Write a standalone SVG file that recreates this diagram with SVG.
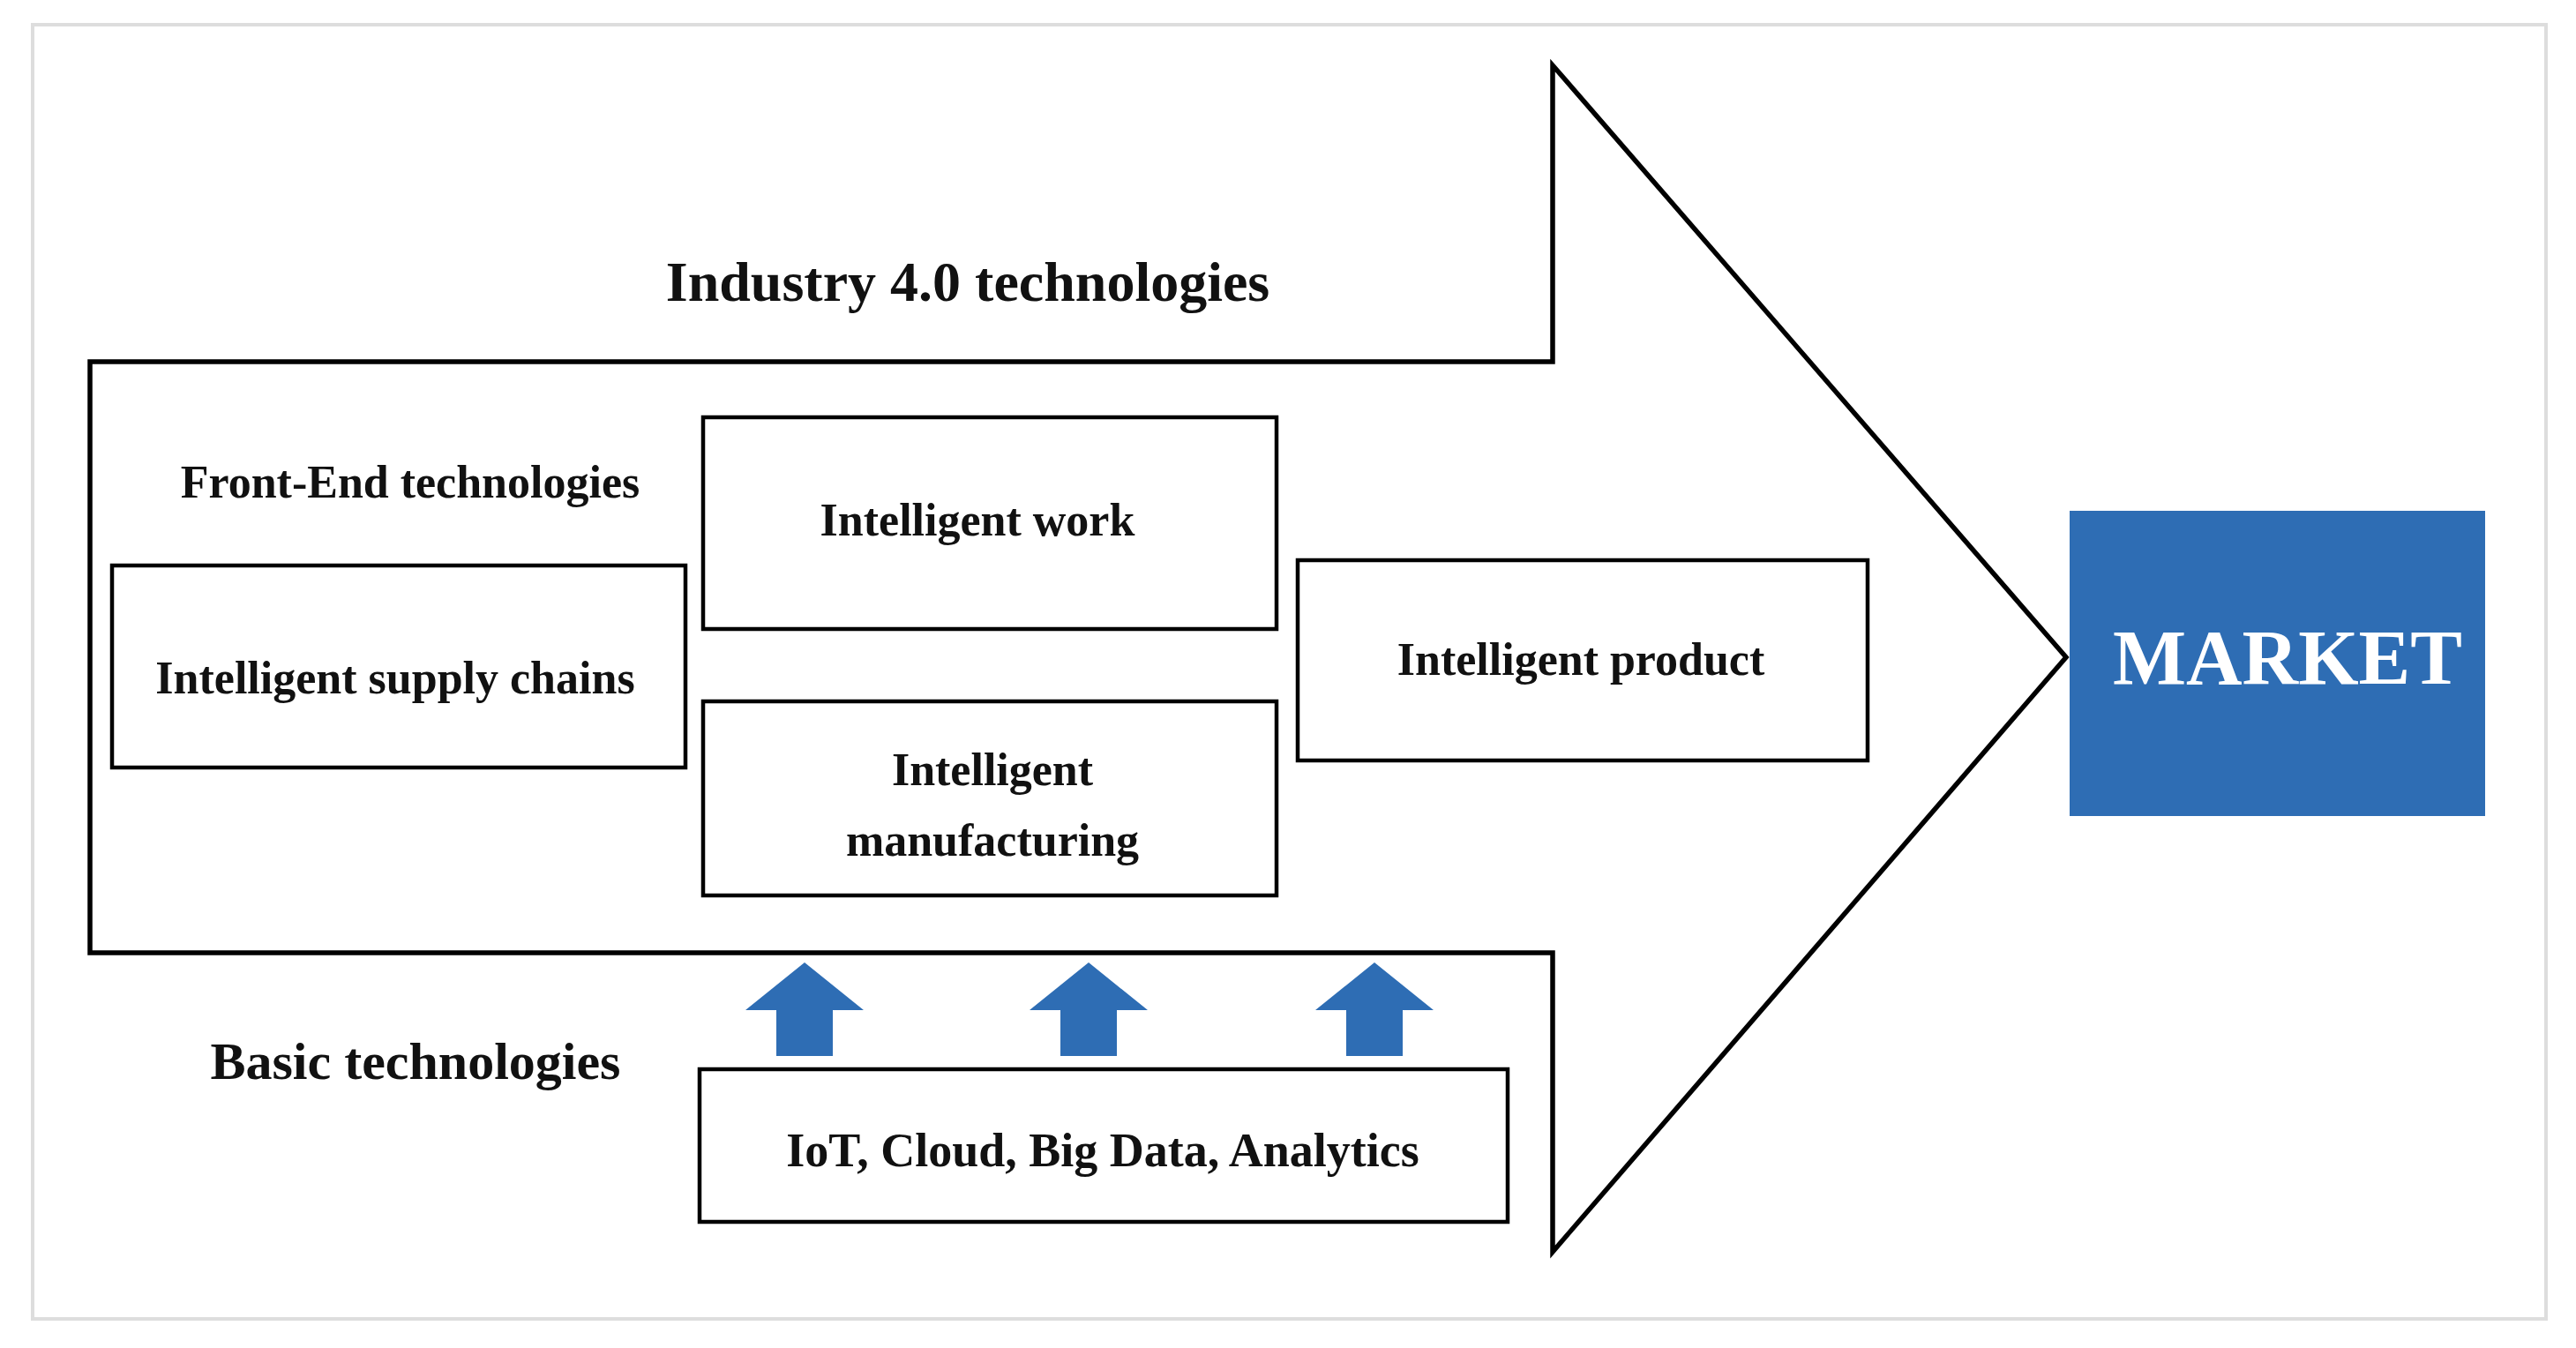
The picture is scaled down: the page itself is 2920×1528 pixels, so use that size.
<svg xmlns="http://www.w3.org/2000/svg" width="2920" height="1528" viewBox="0 0 2920 1528">
<style>
.box{fill:#fff;stroke:#000;stroke-width:4.5}
.t{font-family:"Liberation Serif",serif;font-weight:bold;text-anchor:middle;fill:#111}
.blue{fill:#2E6DB4}
</style>
<rect x="0" y="0" width="2920" height="1528" fill="#fff"/>
<rect x="37" y="28" width="2849" height="1467" fill="#fff" stroke="#ddd" stroke-width="4"/>
<g id="main-arrow"><path d="M102,410 L1760,410 L1760,74 L2342,745 L1760,1419 L1760,1080 L102,1080 Z" fill="#fff" stroke="#000" stroke-width="5.5"/>
<text class="t" x="1097" y="341" font-size="64">Industry 4.0 technologies</text>
<text class="t" x="465" y="564" font-size="52">Front-End technologies</text></g>
<g id="work"><rect class="box" x="797" y="473" width="650" height="240"/><text class="t" x="1108" y="607" font-size="52">Intelligent work</text></g>
<g id="supply"><rect class="box" x="127" y="641" width="650" height="229"/><text class="t" x="448" y="786" font-size="52">Intelligent supply chains</text></g>
<g id="manufacturing"><rect class="box" x="797" y="795" width="650" height="220"/><text class="t" x="1125" y="890" font-size="52">Intelligent</text><text class="t" x="1125" y="970" font-size="52">manufacturing</text></g>
<g id="product"><rect class="box" x="1471" y="635" width="646" height="227"/><text class="t" x="1792" y="765" font-size="52">Intelligent product</text></g>
<g id="market"><rect class="blue" x="2346" y="579" width="471" height="346"/><text class="t" x="2593" y="775" font-size="88" fill="#fff" style="fill:#fff">MARKET</text></g>
<g id="basic"><text class="t" x="471" y="1223" font-size="60">Basic technologies</text><rect class="box" x="793" y="1212" width="916" height="173"/><text class="t" x="1250" y="1322" font-size="54">IoT, Cloud, Big Data, Analytics</text></g>
<g id="connectors">
<path class="blue" d="M912,1091 L979,1145 L944,1145 L944,1197 L880,1197 L880,1145 L845,1145 Z"/>
<path class="blue" d="M1234,1091 L1301,1145 L1266,1145 L1266,1197 L1202,1197 L1202,1145 L1167,1145 Z"/>
<path class="blue" d="M1558,1091 L1625,1145 L1590,1145 L1590,1197 L1526,1197 L1526,1145 L1491,1145 Z"/>
</g>
</svg>
